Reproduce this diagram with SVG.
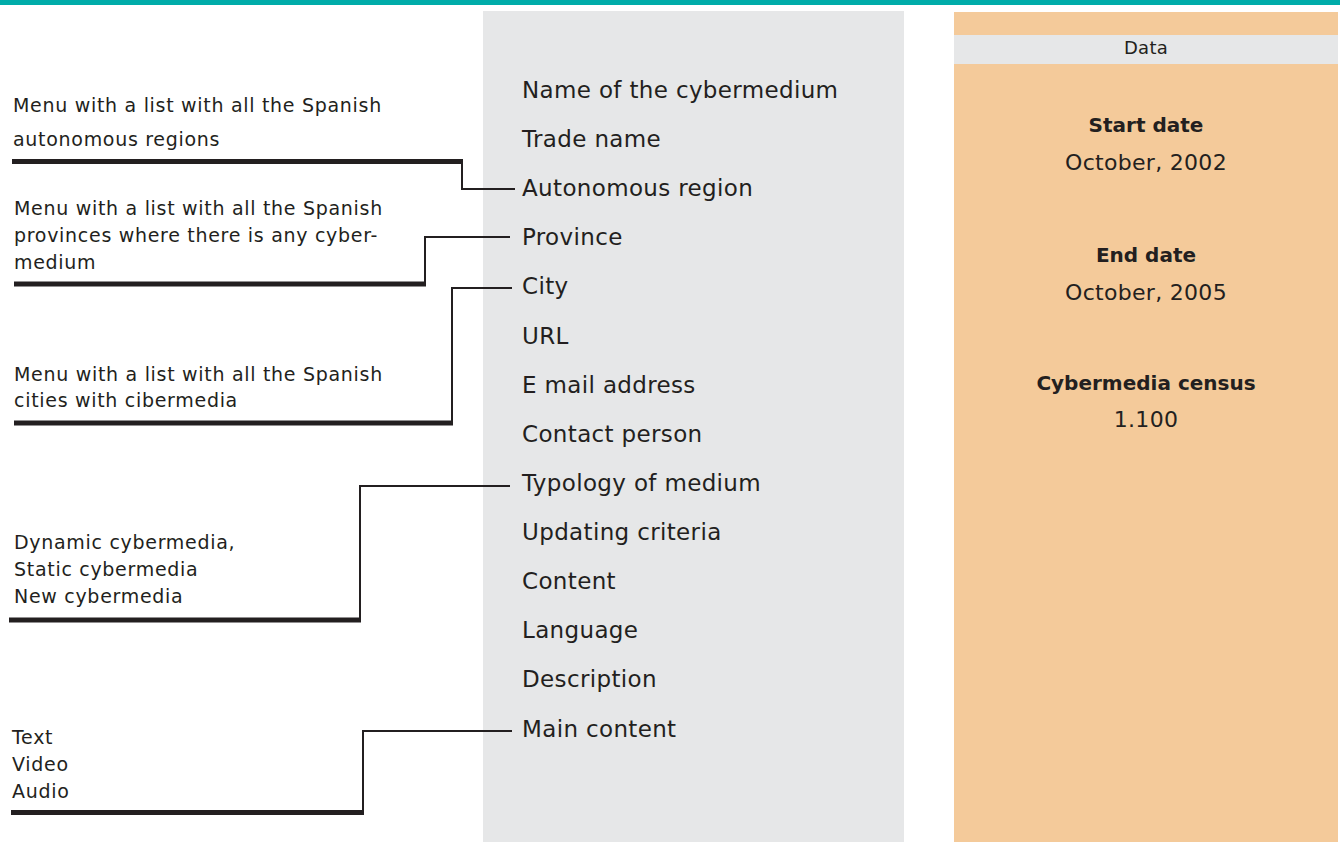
<svg xmlns="http://www.w3.org/2000/svg" width="1340" height="842" viewBox="0 0 1340 842">
<style>
.l{font-family:"DejaVu Sans",sans-serif;font-size:19px;letter-spacing:0.7px;fill:#231f20}
.c{font-family:"DejaVu Sans",sans-serif;font-size:23px;letter-spacing:0.35px;fill:#231f20}
.r{font-family:"DejaVu Sans",sans-serif;font-size:22px;letter-spacing:0.3px;fill:#231f20;text-anchor:middle}
.b{font-family:"DejaVu Sans",sans-serif;font-size:20px;font-weight:bold;fill:#231f20;text-anchor:middle}
.d{font-family:"DejaVu Sans",sans-serif;font-size:18px;letter-spacing:0.3px;fill:#231f20;text-anchor:middle}
.thin{fill:none;stroke:#231f20;stroke-width:2}
.thick{fill:none;stroke:#231f20;stroke-width:5}
</style>
<rect x="0" y="0" width="1340" height="842" fill="#ffffff"/>
<rect id="topbar" x="0" y="0" width="1340" height="5" fill="#00aca9"/>
<g id="fields-panel">
<rect x="483" y="11" width="421" height="831" fill="#e6e7e8"/>
<text class="c" x="522" y="98">Name of the cybermedium</text>
<text class="c" x="522" y="147">Trade name</text>
<text class="c" x="522" y="196">Autonomous region</text>
<text class="c" x="522" y="245">Province</text>
<text class="c" x="522" y="294">City</text>
<text class="c" x="522" y="344">URL</text>
<text class="c" x="522" y="393">E mail address</text>
<text class="c" x="522" y="442">Contact person</text>
<text class="c" x="522" y="491">Typology of medium</text>
<text class="c" x="522" y="540">Updating criteria</text>
<text class="c" x="522" y="589">Content</text>
<text class="c" x="522" y="638">Language</text>
<text class="c" x="522" y="687">Description</text>
<text class="c" x="522" y="737">Main content</text>
</g>
<g id="data-panel">
<rect x="954" y="12" width="384" height="830" fill="#f4ca9a"/>
<rect x="954" y="35" width="384" height="29" fill="#e6e7e8"/>
<text class="d" x="1146" y="54">Data</text>
<text class="b" x="1146" y="132">Start date</text>
<text class="r" x="1146" y="170">October, 2002</text>
<text class="b" x="1146" y="262">End date</text>
<text class="r" x="1146" y="300">October, 2005</text>
<text class="b" x="1146" y="390">Cybermedia census</text>
<text class="r" x="1146" y="427">1.100</text>
</g>
<g id="note-regions">
<text class="l" x="13" y="112">Menu with a list with all the Spanish</text>
<text class="l" x="13" y="146">autonomous regions</text>
</g>
<g id="note-provinces">
<text class="l" x="14" y="215">Menu with a list with all the Spanish</text>
<text class="l" x="14" y="242">provinces where there is any cyber-</text>
<text class="l" x="14" y="269">medium</text>
</g>
<g id="note-cities">
<text class="l" x="14" y="381">Menu with a list with all the Spanish</text>
<text class="l" x="14" y="407">cities with cibermedia</text>
</g>
<g id="note-typology">
<text class="l" x="14" y="549">Dynamic cybermedia,</text>
<text class="l" x="14" y="576">Static cybermedia</text>
<text class="l" x="14" y="603">New cybermedia</text>
</g>
<g id="note-content">
<text class="l" x="12" y="744">Text</text>
<text class="l" x="12" y="771">Video</text>
<text class="l" x="12" y="798">Audio</text>
</g>
<g id="connectors">
<path class="thick" d="M12 161.5H463"/>
<path class="thin" d="M462 161.5V189H515"/>
<path class="thick" d="M14 284H426"/>
<path class="thin" d="M425 284V237H510"/>
<path class="thick" d="M14 423H453"/>
<path class="thin" d="M452 423V288H512"/>
<path class="thick" d="M9 620H361"/>
<path class="thin" d="M360 620V486H510"/>
<path class="thick" d="M11 812.5H364"/>
<path class="thin" d="M363 812.5V731H512"/>
</g>
</svg>
